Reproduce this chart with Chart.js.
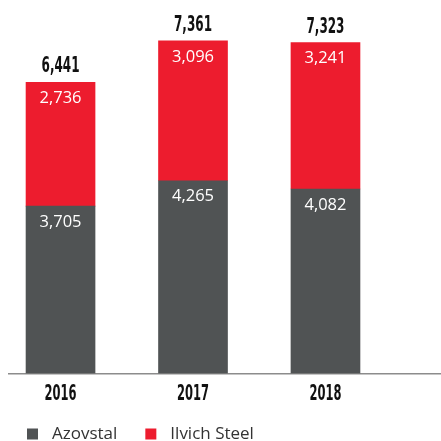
<!DOCTYPE html>
<html>
<head>
<meta charset="utf-8">
<script src="https://cdn.jsdelivr.net/npm/chart.js@4"></script>
<style>
  html, body { margin: 0; padding: 0; background: #fff; }
  #wrap { width: 441px; height: 441px; position: relative; }
</style>
</head>
<body>
<div id="wrap"><canvas id="chart"></canvas></div>
<script>
// data
var years = ['2016', '2017', '2018'];
var azovstal = [3705, 4265, 4082];
var ilvichSteel = [2736, 3096, 3241];
var seriesNames = ['Azovstal', 'Ilvich Steel'];

var darkGrey = '#505354';
var red = '#ED1C2E';
var boldFont = "'DejaVu Sans Condensed', 'DejaVu Sans', sans-serif";
var plainFont = "'Open Sans', 'Noto Sans', sans-serif";

function fmt(v) {
    return v.toLocaleString('en-US');
}

// bold, squeezed text (the original uses a condensed display face)
function narrowText(ctx, text, x, y, width) {
    ctx.save();
    ctx.font = 'bold 21px ' + boldFont;
    var w = ctx.measureText(text).width;
    var k = width / w;
    ctx.translate(x, y);
    ctx.scale(k, 1);
    ctx.textAlign = 'center';
    ctx.textBaseline = 'middle';
    ctx.fillText(text, 0, 0);
    ctx.restore();
}

// white numbers inside each segment + bold totals on top + year labels
var labelsPlugin = {
    id: 'barLabels',
    afterDatasetsDraw: function (chart) {
        var ctx = chart.ctx;
        ctx.save();
        ctx.textAlign = 'center';
        ctx.textBaseline = 'middle';
        ctx.fillStyle = '#ffffff';
        ctx.font = '16.5px ' + plainFont;
        chart.data.datasets.forEach(function (ds, di) {
            var meta = chart.getDatasetMeta(di);
            meta.data.forEach(function (bar, i) {
                ctx.fillText(fmt(ds.data[i]), bar.x, bar.y + 16);
            });
        });
        ctx.fillStyle = '#111111';
        var lastMeta = chart.getDatasetMeta(chart.data.datasets.length - 1);
        lastMeta.data.forEach(function (bar, i) {
            var total = azovstal[i] + ilvichSteel[i];
            narrowText(ctx, fmt(total), bar.x, bar.y - 15.5, 7.6 * fmt(total).length);
        });
        var xs = chart.scales.x;
        years.forEach(function (y) {
            narrowText(ctx, y, xs.getPixelForValue(+y), chart.chartArea.bottom + 21.5, 8 * y.length);
        });
        ctx.restore();
    }
};

// legend along the bottom
var legendPlugin = {
    id: 'bottomLegend',
    afterDraw: function (chart) {
        var ctx = chart.ctx;
        ctx.save();
        ctx.font = '17px ' + plainFont;
        ctx.textBaseline = 'middle';
        ctx.textAlign = 'left';
        var x = 27;
        var y = 434;
        chart.data.datasets.forEach(function (ds) {
            ctx.fillStyle = ds.backgroundColor;
            ctx.fillRect(x, y - 5.5, 11, 11);
            ctx.fillStyle = '#333333';
            ctx.fillText(ds.label, x + 25, y);
            x += 25 + ctx.measureText(ds.label).width + 28;
        });
        ctx.restore();
    }
};

var ctx = document.getElementById('chart').getContext('2d');
var chart = new Chart(ctx, {
    type: 'bar',
    data: {
        labels: years,
        datasets: [
            { label: seriesNames[0], data: azovstal, backgroundColor: darkGrey },
            { label: seriesNames[1], data: ilvichSteel, backgroundColor: red }
        ]
    },
    options: {
        responsive: true,
        maintainAspectRatio: false,
        animation: false,
        layout: { padding: { left: 9, right: 0, top: 12, bottom: 67.5 } },
        barThickness: 69,
        plugins: {
            legend: { display: false },
            tooltip: { enabled: false }
        },
        scales: {
            x: {
                type: 'linear',
                stacked: true,
                offset: false,
                min: 2015.611,
                max: 2018.872,
                afterBuildTicks: function (scale) {
                    scale.ticks = years.map(function (y) { return { value: +y }; });
                },
                grid: { display: false, drawTicks: false },
                border: { display: true, color: '#8c8c8c', width: 1.5 },
                ticks: { display: false }
            },
            y: {
                stacked: true,
                display: false,
                min: 0,
                max: 8000
            }
        }
    },
    plugins: [labelsPlugin, legendPlugin]
});
</script>
</body>
</html>
